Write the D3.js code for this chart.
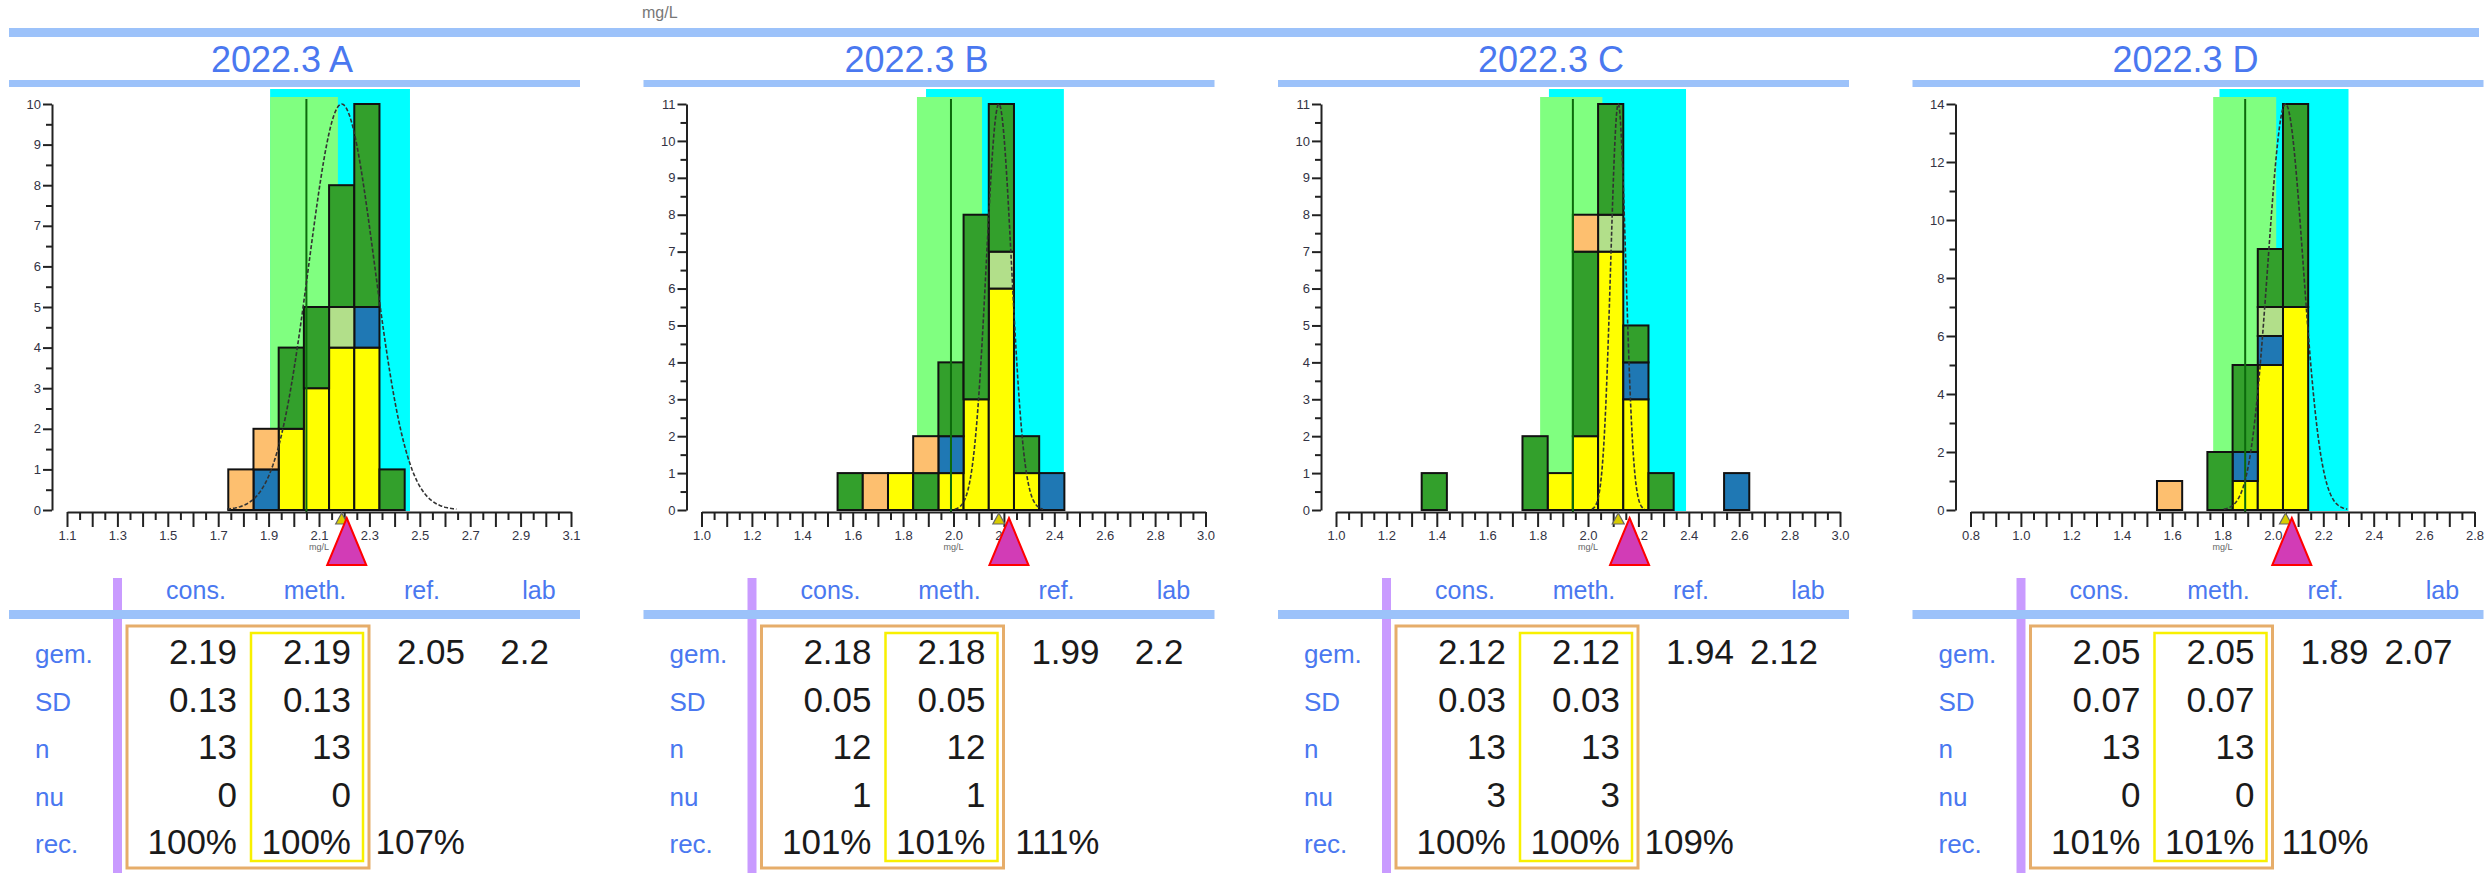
<html>
<head>
<meta charset="UTF-8" />
<script src="https://d3js.org/d3.v7.min.js"></script>
<style>
  body { margin: 0; background: #fff; }
  text { font-family: "Liberation Sans", Arial, sans-serif; }
</style>
</head>
<body>
<svg id="svg"></svg>
<script>
// ---- data ----
var titles = ["2022.3 A", "2022.3 B", "2022.3 C", "2022.3 D"];
var xDomains = [[1.1, 3.1], [1.0, 3.0], [1.0, 3.0], [0.8, 2.8]];
var yMax = [10, 11, 11, 14];
var yStep = [1, 1, 1, 2];

// histogram bins (centre of each 0.1 wide bin)
var binCenters = [
  [1.79, 1.89, 1.99, 2.09, 2.19, 2.29, 2.39],
  [1.59, 1.69, 1.79, 1.89, 1.99, 2.09, 2.19, 2.29, 2.39],
  [1.39, 1.79, 1.89, 1.99, 2.09, 2.19, 2.29, 2.59],
  [1.59, 1.79, 1.89, 1.99, 2.09]
];
// counts per colour group, stacked bottom -> top in this order
var yellowCounts = [
  [0, 0, 2, 3, 4, 4, 0],
  [0, 0, 1, 0, 1, 3, 6, 1, 0],
  [0, 0, 1, 2, 7, 3, 0, 0],
  [0, 0, 1, 5, 7]
];
var blueCounts = [
  [0, 1, 0, 0, 0, 1, 0],
  [0, 0, 0, 0, 1, 0, 0, 0, 1],
  [0, 0, 0, 0, 0, 1, 0, 1],
  [0, 0, 1, 1, 0]
];
var lightCounts = [
  [0, 0, 0, 0, 1, 0, 0],
  [0, 0, 0, 0, 0, 0, 1, 0, 0],
  [0, 0, 0, 0, 1, 0, 0, 0],
  [0, 0, 0, 1, 0]
];
var greenCounts = [
  [0, 0, 2, 2, 3, 5, 1],
  [1, 0, 0, 1, 2, 5, 4, 1, 0],
  [1, 2, 0, 5, 3, 1, 1, 0],
  [0, 2, 3, 2, 7]
];
var orangeCounts = [
  [1, 1, 0, 0, 0, 0, 0],
  [0, 1, 0, 1, 0, 0, 0, 0, 0],
  [0, 0, 0, 1, 0, 0, 0, 0],
  [1, 0, 0, 0, 0]
];

var consBand = [[1.906, 2.461], [1.891, 2.438], [1.845, 2.389], [1.788, 2.30]];
var refBand = [[1.906, 2.175], [1.855, 2.113], [1.81, 2.057], [1.763, 2.013]];
var labMarker = [2.21, 2.22, 2.165, 2.075];

// table
var consMean = [2.19, 2.18, 2.12, 2.05];
var consSD = [0.13, 0.05, 0.03, 0.07];
var methMean = [2.19, 2.18, 2.12, 2.05];
var methSD = [0.13, 0.05, 0.03, 0.07];
var nVals = [13, 12, 13, 13];
var nuVals = [0, 1, 3, 0];
var recCons = [100, 101, 100, 101];
var recMeth = [100, 101, 100, 101];
var refVals = [2.05, 1.99, 1.94, 1.89];
var labVals = [2.2, 2.2, 2.12, 2.07];
var recRef = [107, 111, 109, 110];

var rowLabels = ["gem.", "SD", "n", "nu", "rec."];
var colHeads = ["cons.", "meth.", "ref.", "lab"];

// ---- drawing ----
var width = 2489, height = 873;
var lineBlue = "#9cc2fa", textBlue = "#4a78f0";
var keys = ["yellow", "blue", "light", "green", "orange"];
var fills = { yellow: "#ffff00", blue: "#1f78b4", light: "#b2df8a", green: "#33a02c", orange: "#fdbf6f" };

var svg = d3.select("#svg").attr("width", width).attr("height", height);
svg.append("rect").attr("width", width).attr("height", height).attr("fill", "#fff");

svg.append("text").attr("x", 642).attr("y", 18)
  .style("font-size", "16px").attr("fill", "#777").text("mg/L");

svg.append("rect").attr("x", 9).attr("y", 28).attr("width", 2470).attr("height", 9).attr("fill", lineBlue);

var panelW = 571;

titles.forEach(function (title, i) {
  var g = svg.append("g").attr("transform", "translate(" + (9 + 634.5 * i) + ",0)");

  g.append("text").attr("x", 273).attr("y", 72).attr("text-anchor", "middle")
    .style("font-size", "36px").attr("fill", textBlue).text(title);
  g.append("rect").attr("x", 0).attr("y", 80).attr("width", panelW).attr("height", 7).attr("fill", lineBlue);

  var x = d3.scaleLinear().domain(xDomains[i]).range([58, 562]);
  var y = d3.scaleLinear().domain([0, yMax[i]]).range([510, 104]);

  // bands
  g.append("rect").attr("x", x(consBand[i][0])).attr("y", 89)
    .attr("width", x(consBand[i][1]) - x(consBand[i][0])).attr("height", 511 - 89)
    .attr("fill", "#00ffff");
  g.append("rect").attr("x", x(refBand[i][0])).attr("y", 97)
    .attr("width", x(refBand[i][1]) - x(refBand[i][0])).attr("height", 511 - 97)
    .attr("fill", "#80ff80");

  // stacked histogram
  var rows = binCenters[i].map(function (c, j) {
    return { c: c, yellow: yellowCounts[i][j], blue: blueCounts[i][j], light: lightCounts[i][j],
      green: greenCounts[i][j], orange: orangeCounts[i][j] };
  });
  var series = d3.stack().keys(keys)(rows);
  series.forEach(function (s) {
    g.append("g").selectAll("rect")
      .data(s.filter(function (d) { return d[1] > d[0]; }))
      .enter().append("rect")
      .attr("x", function (d) { return x(d.data.c - 0.05); })
      .attr("width", function (d) { return x(d.data.c + 0.05) - x(d.data.c - 0.05); })
      .attr("y", function (d) { return y(d[1]); })
      .attr("height", function (d) { return y(d[0]) - y(d[1]); })
      .attr("fill", fills[s.key])
      .attr("stroke", "#111").attr("stroke-width", 2);
  });

  // reference value line
  g.append("line").attr("x1", x(refVals[i])).attr("x2", x(refVals[i]))
    .attr("y1", 99).attr("y2", 512).attr("stroke", "#0c6a0c").attr("stroke-width", 2);

  // normal curve from consensus mean / SD
  var pts = d3.range(-3.5, 3.501, 0.05).map(function (z) {
    return [consMean[i] + z * consSD[i], yMax[i] * Math.exp(-z * z / 2)];
  });
  g.append("path").datum(pts)
    .attr("d", d3.line().x(function (d) { return x(d[0]); }).y(function (d) { return y(d[1]); }))
    .attr("fill", "none").attr("stroke", "#333").attr("stroke-width", 1.6)
    .attr("stroke-dasharray", "4,2");

  // y axis
  var yMajor = d3.range(0, yMax[i] + 0.001, yStep[i]);
  var yMinor = d3.range(yStep[i] / 2, yMax[i], yStep[i]);
  var ya = g.append("g").attr("transform", "translate(43,0)")
    .call(d3.axisLeft(y).tickValues(yMajor).tickSize(9).tickSizeOuter(0).tickPadding(2).tickFormat(d3.format("d")));
  g.append("g").attr("transform", "translate(43,0)")
    .call(d3.axisLeft(y).tickValues(yMinor).tickSize(6).tickSizeOuter(0).tickFormat(""))
    .select(".domain").remove();

  // x axis
  var n = Math.round((xDomains[i][1] - xDomains[i][0]) / 0.05);
  var xTicks = d3.range(0, n + 1).map(function (k) { return xDomains[i][0] + k * 0.05; });
  var xMajor = xTicks.filter(function (d, k) { return k % 2 === 0; });
  var xMinor = xTicks.filter(function (d, k) { return k % 2 === 1; });
  g.append("g").attr("transform", "translate(0,512)")
    .call(d3.axisBottom(x).tickValues(xMajor).tickSize(15).tickSizeOuter(0).tickPadding(4)
      .tickFormat(function (d, k) { return k % 2 === 0 ? d3.format(".1f")(d) : ""; }));
  g.append("g").attr("transform", "translate(0,512)")
    .call(d3.axisBottom(x).tickValues(xMinor).tickSize(8).tickSizeOuter(0).tickFormat(""))
    .select(".domain").remove();

  g.append("text").attr("x", 310).attr("y", 550).attr("text-anchor", "middle")
    .style("font-size", "9px").attr("fill", "#666").text("mg/L");

  // consensus marker and lab marker
  var cx = x(consMean[i]);
  g.append("path").attr("d", "M" + cx + ",513L" + (cx + 6) + ",524L" + (cx - 6) + ",524Z")
    .attr("fill", "#d8cc00").attr("stroke", "#666").attr("stroke-width", 1.2);
  var lx = x(labMarker[i]);
  g.append("path").attr("d", "M" + lx + ",518L" + (lx + 19.5) + ",565L" + (lx - 19.5) + ",565Z")
    .attr("fill", "#d23cb6").attr("stroke", "#ff0000").attr("stroke-width", 2);

  // table
  g.append("rect").attr("x", 104).attr("y", 578).attr("width", 9).attr("height", 295).attr("fill", "#c99bff");
  g.append("rect").attr("x", 0).attr("y", 610).attr("width", panelW).attr("height", 9).attr("fill", lineBlue);

  var headX = [187, 306, 413, 530];
  colHeads.forEach(function (h, k) {
    g.append("text").attr("x", headX[k]).attr("y", 599).attr("text-anchor", "middle")
      .style("font-size", "25px").attr("fill", textBlue).text(h);
  });
  rowLabels.forEach(function (r, k) {
    g.append("text").attr("x", 26).attr("y", 663 + 47.5 * k)
      .style("font-size", "26px").attr("fill", textBlue).text(r);
  });

  g.append("rect").attr("x", 118).attr("y", 626).attr("width", 242).attr("height", 242)
    .attr("fill", "none").attr("stroke", "#e6ad6a").attr("stroke-width", 3);
  g.append("rect").attr("x", 242).attr("y", 633).attr("width", 112).attr("height", 228)
    .attr("fill", "none").attr("stroke", "#f8f000").attr("stroke-width", 2.5);

  var cols = [
    { x: 228, v: [consMean[i].toFixed(2), consSD[i].toFixed(2), nVals[i], nuVals[i], recCons[i] + "%"] },
    { x: 342, v: [methMean[i].toFixed(2), methSD[i].toFixed(2), nVals[i], nuVals[i], recMeth[i] + "%"] },
    { x: 456, v: [refVals[i].toFixed(2), "", "", "", recRef[i] + "%"] },
    { x: 540, v: [String(labVals[i]), "", "", "", ""] }
  ];
  cols.forEach(function (c) {
    c.v.forEach(function (v, k) {
      if (v === "") return;
      g.append("text").attr("x", c.x).attr("y", 664 + 47.5 * k).attr("text-anchor", "end")
        .style("font-size", "35px").attr("fill", "#1a1a1a").text(v);
    });
  });

  g.selectAll(".domain").attr("stroke", "#222").attr("stroke-width", 2);
  g.selectAll(".tick line").attr("stroke", "#222").attr("stroke-width", 2);
  g.selectAll(".tick text").style("font-size", "13px").attr("fill", "#334");
});
</script>
</body>
</html>
